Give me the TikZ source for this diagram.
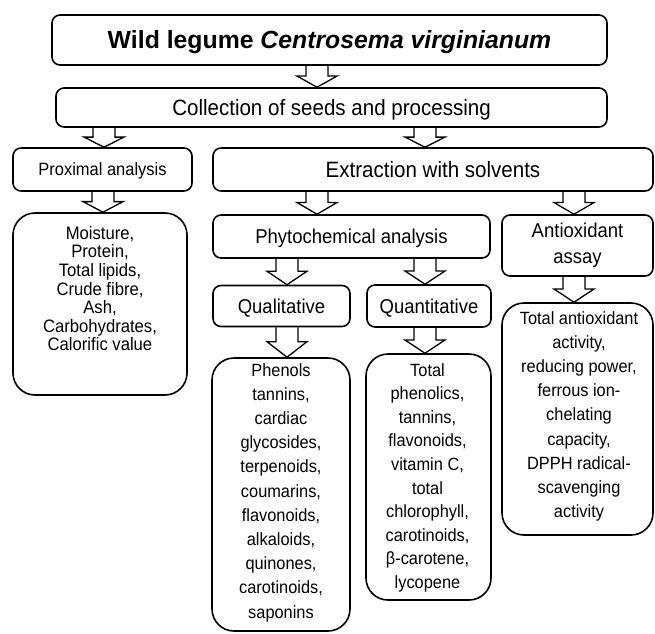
\documentclass[tikz,border=0pt]{standalone}
\usepackage{fontspec}
\setmainfont{Liberation Sans}
\newfontfamily\narrowfont{Liberation Sans}[FakeStretch=0.925]
\usetikzlibrary{calc}
\pgfdeclarelayer{bg}
\pgfsetlayers{bg,main}
\tikzset{
  box/.style={draw=black, line width=1.6pt, fill=white, rounded corners=8pt, inner sep=0pt, text=black},
  onel/.style={text depth=0pt},
  bigbox/.style={box, rounded corners=22pt},
  txt/.style={inner sep=0pt, align=center, text=black},
  blockarr/.style={draw=black, line width=1.3pt, fill=white, line join=miter,
    to path={
      ($(\tikztostart)+(-11,0)$) --
      ($(\tikztostart)!0.48!(\tikztotarget)+(-11,0)$) --
      ($(\tikztostart)!0.48!(\tikztotarget)+(-20,0)$) --
      (\tikztotarget) --
      ($(\tikztostart)!0.48!(\tikztotarget)+(20,0)$) --
      ($(\tikztostart)!0.48!(\tikztotarget)+(11,0)$) --
      ($(\tikztostart)+(11,0)$)
    }},
  fbig/.style={font={\narrowfont\fontsize{22.2}{26}\selectfont}},
  fmid/.style={font={\narrowfont\fontsize{20}{26}\selectfont}},
  fsmall/.style={font={\narrowfont\fontsize{17.8}{20}\selectfont}},
  flist/.style={font={\narrowfont\fontsize{17.7}{24.2}\selectfont}},
}
\begin{document}
\begin{tikzpicture}[x=1pt,y=-1pt]
\useasboundingbox (0,0) rectangle (655,633);

% boxes
\node[box, onel, minimum width=555pt, minimum height=50pt] (title) at (329.5,40)
  {\fontsize{24.8}{28}\selectfont\bfseries Wild legume \textit{Centrosema virginianum}};
\node[box, onel, fbig, minimum width=551pt, minimum height=39pt] (coll) at (331.5,107.5)
  {Collection of seeds and processing};
\node[box, onel, fsmall, minimum width=179pt, minimum height=43pt] (prox) at (102.5,169.5)
  {Proximal analysis};
\node[box, onel, fbig, minimum width=440pt, minimum height=43pt] (extr) at (433,169.5)
  {Extraction with solvents};
\node[bigbox, minimum width=174pt, minimum height=182pt] (moist) at (100,304) {};
\node[txt, anchor=north, font={\narrowfont\fontsize{18}{18.6}\selectfont}] (moistT) at (100,226)
  {Moisture,\\Protein,\\Total lipids,\\Crude fibre,\\Ash,\\Carbohydrates,\\Calorific value};
\node[box, onel, fmid, minimum width=277pt, minimum height=43pt] (phyto) at (351.5,236.5)
  {Phytochemical analysis};
\node[box, fmid, align=center, minimum width=151pt, minimum height=61pt] (antiox) at (577.5,245.5)
  {Antioxidant\\assay};
\node[box, onel, fmid, minimum width=137pt, minimum height=41pt] (qual) at (281.5,306)
  {Qualitative};
\node[box, onel, fmid, minimum width=124pt, minimum height=42pt] (quant) at (429,306)
  {Quantitative};
\node[bigbox, minimum width=151pt, minimum height=232pt] (antres) at (577.5,419) {};
\node[txt, anchor=north, flist] (antresT) at (579,311)
  {Total antioxidant\\activity,\\reducing power,\\ferrous ion-\\chelating\\capacity,\\DPPH radical-\\scavenging\\activity};
\node[bigbox, minimum width=138pt, minimum height=273pt] (phen) at (281,494.5) {};
\node[txt, anchor=north, flist] (phenT) at (281,363)
  {Phenols\\tannins,\\cardiac\\glycosides,\\terpenoids,\\coumarins,\\flavonoids,\\alkaloids,\\quinones,\\carotinoids,\\saponins};
\node[bigbox, minimum width=125pt, minimum height=246pt] (qres) at (428.5,477) {};
\node[txt, anchor=north, font={\narrowfont\fontsize{17.7}{23.6}\selectfont}] (qresT) at (427.5,363)
  {Total\\phenolics,\\tannins,\\flavonoids,\\vitamin C,\\total\\chlorophyll,\\carotinoids,\\β-carotene,\\lycopene};

% arrow columns
\coordinate (cA) at (317,0);
\coordinate (cB) at (104,0);
\coordinate (cC) at (425,0);
\coordinate (cD) at (103,0);
\coordinate (cE) at (317,0);
\coordinate (cF) at (574,0);
\coordinate (cG) at (287,0);
\coordinate (cH) at (425,0);
\coordinate (cI) at (574,0);
\coordinate (cJ) at (287,0);
\coordinate (cK) at (425,0);

\begin{pgfonlayer}{bg}
\draw[blockarr] (title.south -| cA) to (coll.north -| cA);
\draw[blockarr] (coll.south -| cB) to (prox.north -| cB);
\draw[blockarr] (coll.south -| cC) to (extr.north -| cC);
\draw[blockarr] (prox.south -| cD) to (moist.north -| cD);
\draw[blockarr] (extr.south -| cE) to (phyto.north -| cE);
\draw[blockarr] (extr.south -| cF) to (antiox.north -| cF);
\draw[blockarr] (phyto.south -| cG) to (qual.north -| cG);
\draw[blockarr] (phyto.south -| cH) to (quant.north -| cH);
\draw[blockarr] (antiox.south -| cI) to (antres.north -| cI);
\draw[blockarr] (qual.south -| cJ) to (phen.north -| cJ);
\draw[blockarr] (quant.south -| cK) to (qres.north -| cK);
\end{pgfonlayer}
\end{tikzpicture}
\end{document}
